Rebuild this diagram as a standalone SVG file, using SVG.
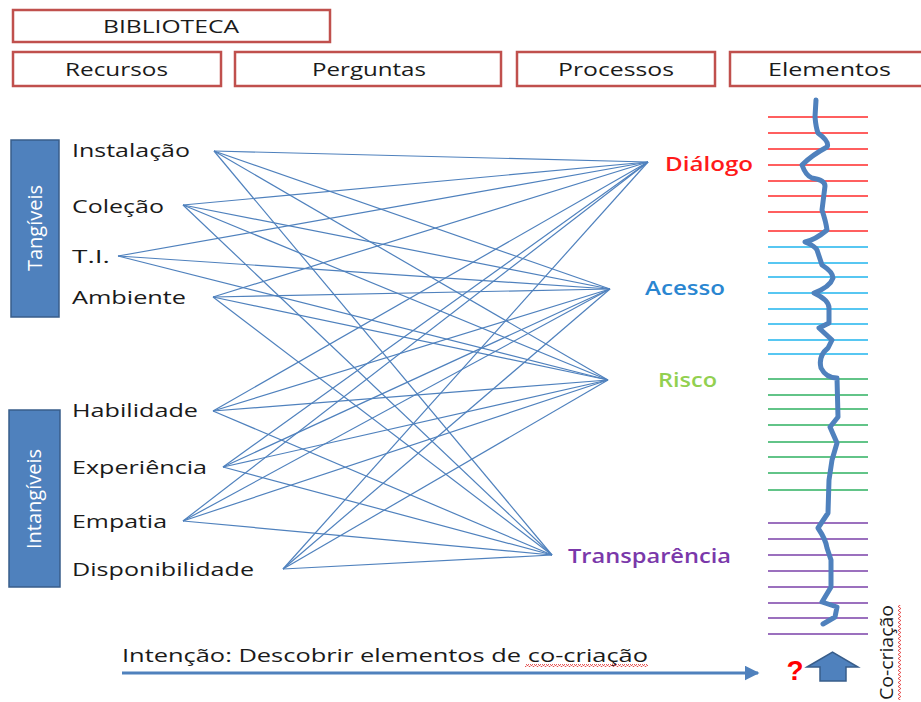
<svg xmlns="http://www.w3.org/2000/svg" width="921" height="702" viewBox="0 0 921 702">
<style>
.hbox{fill:#ffffff;stroke:#c0504d;stroke-width:2.5}
.ht{font-family:"Open Sans","Liberation Sans",sans-serif;font-size:19px;fill:#1a1a1a}
.lbl{font-family:"Open Sans","Liberation Sans",sans-serif;font-size:19px;fill:#1a1a1a}
.cat{fill:#4f81bd;stroke:#385d8a;stroke-width:1.5}
.catt{font-family:"Open Sans","Liberation Sans",sans-serif;font-size:20px;fill:#ffffff}
.proc{font-family:"Open Sans","Liberation Sans",sans-serif;font-size:20px;font-weight:600}
.cn line{stroke:#4f81bd;stroke-width:1.2}
.rung{stroke-width:1.6}
</style>
<defs>
<pattern id="wavy" patternUnits="userSpaceOnUse" width="4" height="3">
<path d="M0 2.5 L1 0.5 L2 0.5 L3 2.5 L4 2.5" fill="none" stroke="#e03030" stroke-width="0.8"/>
</pattern>
<marker id="ah" viewBox="0 0 10 10" refX="9" refY="5" markerWidth="5" markerHeight="5" orient="auto" markerUnits="strokeWidth">
<path d="M0 0 L10 5 L0 10 Z" fill="#4f81bd"/>
</marker>
</defs>
<rect width="921" height="702" fill="#ffffff"/>

<g id="header-biblioteca"><rect class="hbox" x="13" y="10" width="317" height="32"/><text class="ht" x="103" y="33" textLength="136" lengthAdjust="spacingAndGlyphs">BIBLIOTECA</text></g>
<g id="header-recursos"><rect class="hbox" x="13" y="52" width="208" height="34"/><text class="ht" x="65" y="76" textLength="103" lengthAdjust="spacingAndGlyphs">Recursos</text></g>
<g id="header-perguntas"><rect class="hbox" x="235" y="52" width="266" height="34"/><text class="ht" x="312" y="76" textLength="114" lengthAdjust="spacingAndGlyphs">Perguntas</text></g>
<g id="header-processos"><rect class="hbox" x="517" y="52" width="198" height="34"/><text class="ht" x="558" y="76" textLength="116" lengthAdjust="spacingAndGlyphs">Processos</text></g>
<g id="header-elementos"><rect class="hbox" x="730" y="52" width="200" height="34"/><text class="ht" x="768" y="76" textLength="123" lengthAdjust="spacingAndGlyphs">Elementos</text></g>

<g id="cat-tangiveis"><rect class="cat" x="11" y="140" width="48" height="177"/><text class="catt" transform="translate(42,228) rotate(-90)" text-anchor="middle">Tangíveis</text></g>
<g id="cat-intangiveis"><rect class="cat" x="9" y="410" width="51" height="177"/><text class="catt" transform="translate(41,499) rotate(-90)" text-anchor="middle">Intangíveis</text></g>

<g id="connectors" class="cn">
<line x1="214" y1="151" x2="648" y2="162"/><line x1="214" y1="151" x2="610" y2="289"/><line x1="214" y1="151" x2="608" y2="380"/><line x1="214" y1="151" x2="552" y2="555"/>
<line x1="183" y1="205" x2="648" y2="162"/><line x1="183" y1="205" x2="610" y2="289"/><line x1="183" y1="205" x2="608" y2="380"/><line x1="183" y1="205" x2="552" y2="555"/>
<line x1="118" y1="256" x2="648" y2="162"/><line x1="118" y1="256" x2="610" y2="289"/><line x1="118" y1="256" x2="608" y2="380"/>
<line x1="213" y1="297" x2="648" y2="162"/><line x1="213" y1="297" x2="610" y2="289"/><line x1="213" y1="297" x2="608" y2="380"/><line x1="213" y1="297" x2="552" y2="555"/>
<line x1="213" y1="411" x2="648" y2="162"/><line x1="213" y1="411" x2="610" y2="289"/><line x1="213" y1="411" x2="608" y2="380"/><line x1="213" y1="411" x2="552" y2="555"/>
<line x1="223" y1="467" x2="648" y2="162"/><line x1="223" y1="467" x2="610" y2="289"/><line x1="223" y1="467" x2="608" y2="380"/><line x1="223" y1="467" x2="552" y2="555"/>
<line x1="183" y1="521" x2="648" y2="162"/><line x1="183" y1="521" x2="610" y2="289"/><line x1="183" y1="521" x2="608" y2="380"/><line x1="183" y1="521" x2="552" y2="555"/>
<line x1="283" y1="569" x2="648" y2="162"/><line x1="283" y1="569" x2="610" y2="289"/><line x1="283" y1="569" x2="608" y2="380"/><line x1="283" y1="569" x2="552" y2="555"/>
</g>

<g id="res-instalacao"><text class="lbl" x="72" y="157" textLength="118" lengthAdjust="spacingAndGlyphs">Instalação</text></g>
<g id="res-colecao"><text class="lbl" x="72" y="213" textLength="92" lengthAdjust="spacingAndGlyphs">Coleção</text></g>
<g id="res-ti"><text class="lbl" x="72" y="263" textLength="38" lengthAdjust="spacingAndGlyphs">T.I.</text></g>
<g id="res-ambiente"><text class="lbl" x="72" y="304" textLength="114" lengthAdjust="spacingAndGlyphs">Ambiente</text></g>
<g id="res-habilidade"><text class="lbl" x="72" y="417" textLength="126" lengthAdjust="spacingAndGlyphs">Habilidade</text></g>
<g id="res-experiencia"><text class="lbl" x="72" y="474" textLength="135" lengthAdjust="spacingAndGlyphs">Experiência</text></g>
<g id="res-empatia"><text class="lbl" x="72" y="528" textLength="95" lengthAdjust="spacingAndGlyphs">Empatia</text></g>
<g id="res-disponibilidade"><text class="lbl" x="72" y="576" textLength="182" lengthAdjust="spacingAndGlyphs">Disponibilidade</text></g>

<g id="proc-dialogo"><text class="proc" x="665" y="171" fill="#ff1a1a" font-weight="bold" textLength="88" lengthAdjust="spacingAndGlyphs">Diálogo</text></g>
<g id="proc-acesso"><text class="proc" x="645" y="295" fill="#2a86d1" textLength="80" lengthAdjust="spacingAndGlyphs">Acesso</text></g>
<g id="proc-risco"><text class="proc" x="658" y="387" fill="#92d050" textLength="59" lengthAdjust="spacingAndGlyphs">Risco</text></g>
<g id="proc-transparencia"><text class="proc" x="568" y="563" fill="#7a38aa" textLength="163" lengthAdjust="spacingAndGlyphs">Transparência</text></g>

<g id="elementos-ladder">
<g class="rung" stroke="#ff2a2a">
<line x1="768" y1="117" x2="868" y2="117"/><line x1="768" y1="133" x2="868" y2="133"/><line x1="768" y1="149" x2="868" y2="149"/><line x1="768" y1="165" x2="868" y2="165"/><line x1="768" y1="181" x2="868" y2="181"/><line x1="768" y1="196" x2="868" y2="196"/><line x1="768" y1="212" x2="868" y2="212"/><line x1="768" y1="231" x2="868" y2="231"/>
</g>
<g class="rung" stroke="#1fb4ee">
<line x1="768" y1="247" x2="868" y2="247"/><line x1="768" y1="263" x2="868" y2="263"/><line x1="768" y1="277" x2="868" y2="277"/><line x1="768" y1="293" x2="868" y2="293"/><line x1="768" y1="309" x2="868" y2="309"/><line x1="768" y1="324" x2="868" y2="324"/><line x1="768" y1="340" x2="868" y2="340"/><line x1="768" y1="354" x2="868" y2="354"/>
</g>
<g class="rung" stroke="#2eb060">
<line x1="768" y1="379" x2="868" y2="379"/><line x1="768" y1="395" x2="868" y2="395"/><line x1="768" y1="409" x2="868" y2="409"/><line x1="768" y1="425" x2="868" y2="425"/><line x1="768" y1="442" x2="868" y2="442"/><line x1="768" y1="457" x2="868" y2="457"/><line x1="768" y1="473" x2="868" y2="473"/><line x1="768" y1="490" x2="868" y2="490"/>
</g>
<g class="rung" stroke="#7a40a8">
<line x1="768" y1="523" x2="868" y2="523"/><line x1="768" y1="539" x2="868" y2="539"/><line x1="768" y1="555" x2="868" y2="555"/><line x1="768" y1="571" x2="868" y2="571"/><line x1="768" y1="587" x2="868" y2="587"/><line x1="768" y1="603" x2="868" y2="603"/><line x1="768" y1="618" x2="868" y2="618"/><line x1="768" y1="634" x2="868" y2="634"/>
</g>
<path d="M816 100 L815 117 Q816 128 818 133 Q830 142 827 147 Q812 155 802 165 Q806 176 812 178 Q825 180 825 186 L822 210 Q826 222 827 230 Q815 240 805 242 Q815 246 817 250 L822 265 Q833 272 833 278 Q830 287 814 293 Q829 300 829 308 L829 323 L819 328 L832 340 L828 348 Q818 356 821 368 Q826 378 837 378 L838 417 L830 427 L837 443 L832 460 L829 480 L828 513 L818 528 Q826 540 827 548 L831 560 L831 587 L822 602 L837 607 L835 617 L823 624" fill="none" stroke="#4f81bd" stroke-width="5" stroke-linecap="round" stroke-linejoin="round"/>
</g>

<g id="intencao">
<text class="lbl" x="122" y="662" textLength="526" lengthAdjust="spacingAndGlyphs">Intenção: Descobrir elementos de co-criação</text>
<rect x="525" y="664" width="123" height="3" fill="url(#wavy)"/>
<line x1="122" y1="673" x2="758" y2="673" stroke="#4f81bd" stroke-width="3" marker-end="url(#ah)"/>
</g>

<g id="question"><text x="795" y="680" text-anchor="middle" font-family="'Liberation Sans',sans-serif" font-weight="bold" font-size="28" fill="#ff0000">?</text></g>
<g id="up-arrow"><path d="M807 667 L832.5 652 L858 667 L846 667 L846 681 L820 681 L820 667 Z" fill="#4f81bd" stroke="#385d8a" stroke-width="1.5"/></g>
<g id="cocriacao">
<text class="lbl" transform="translate(893,700) rotate(-90)" textLength="95" lengthAdjust="spacingAndGlyphs">Co-criação</text>
<rect transform="translate(898,700) rotate(-90)" x="0" y="0" width="95" height="3" fill="url(#wavy)"/>
</g>
</svg>
